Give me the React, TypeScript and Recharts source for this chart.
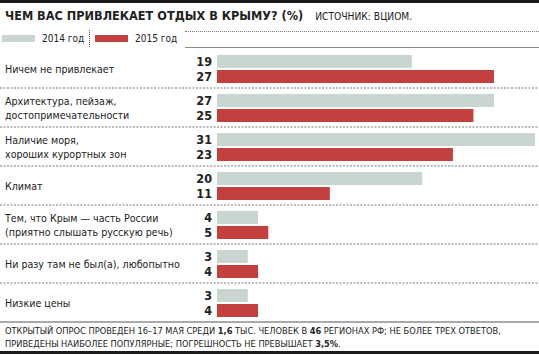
import { BarChart, Bar, XAxis, YAxis, LabelList } from "recharts";

const categories = [
  "Ничем не привлекает",
  "Архитектура, пейзаж,\nдостопримечательности",
  "Наличие моря,\nхороших курортных зон",
  "Климат",
  "Тем, что Крым — часть России\n(приятно слышать русскую речь)",
  "Ни разу там не был(а), любопытно",
  "Низкие цены",
];
const values2014 = [19, 27, 31, 20, 4, 3, 3];
const values2015 = [27, 25, 23, 11, 5, 4, 4];
const seriesNames = ["2014 год", "2015 год"];

const GRAY = "#c9d6d0";
const RED = "#c4403f";
const FONT = "'Liberation Sans Narrow', 'DejaVu Sans Condensed', Roboto, sans-serif";

const W = 539;
const H = 355;
const TOP = 49;
const BOTTOM = 33;
const BAND = (H - TOP - BOTTOM) / categories.length;

const data = categories.map((name, i) => ({
  name,
  y2014: values2014[i],
  y2015: values2015[i],
}));

function CategoryTick(props: any) {
  const { y, payload, index } = props;
  const lines = String(payload.value).split("\n");
  const last = index === categories.length - 1;
  const lineY = y + BAND / 2;
  return (
    <g>
      <text
        x={5}
        y={y}
        fill="#222"
        fontSize={10.6}
        fontFamily={FONT}
        dominantBaseline="central"
      >
        {lines.map((l, i) => (
          <tspan key={i} x={5} y={y + (i - (lines.length - 1) / 2) * 14}>
            {l}
          </tspan>
        ))}
      </text>
      <line
        x1={0}
        x2={W}
        y1={lineY}
        y2={lineY}
        stroke={last ? "#555" : "#777"}
        strokeWidth={1}
        strokeDasharray={last ? undefined : "2 1.5"}
      />
    </g>
  );
}

export default function App() {
  return (
    <div
      style={{
        position: "absolute",
        left: 0,
        top: 0,
        width: W,
        height: H,
        background: "#fff",
        fontFamily: FONT,
        color: "#222",
        overflow: "hidden",
      }}
    >
      <div style={{ position: "absolute", left: 0, top: 0, width: W, height: 3, background: "#1a1a1a" }} />
      <div style={{ position: "absolute", left: 5, top: 8, whiteSpace: "nowrap", fontSize: 12.6, lineHeight: "16px" }}>
        <span style={{ fontWeight: "bold" }}>ЧЕМ ВАС ПРИВЛЕКАЕТ ОТДЫХ В КРЫМУ? (%)</span>
        <span style={{ fontSize: 10.2, marginLeft: 12 }}>ИСТОЧНИК: ВЦИОМ.</span>
      </div>
      <div style={{ position: "absolute", left: 185, top: 31, width: W - 185, borderTop: "1px dotted #777" }} />
      <div style={{ position: "absolute", left: 185, top: 47, width: W - 185, borderTop: "1px solid #888" }} />
      <div style={{ position: "absolute", left: 2, top: 35, width: 33, height: 7, background: GRAY }} />
      <div style={{ position: "absolute", left: 42, top: 32, fontSize: 10, lineHeight: "13px", whiteSpace: "nowrap" }}>
        {seriesNames[0]}
      </div>
      <div style={{ position: "absolute", left: 89, top: 30, height: 17, borderLeft: "1px dotted #555" }} />
      <div style={{ position: "absolute", left: 95, top: 35, width: 33, height: 7, background: RED }} />
      <div style={{ position: "absolute", left: 135, top: 32, fontSize: 10, lineHeight: "13px", whiteSpace: "nowrap" }}>
        {seriesNames[1]}
      </div>

      <div style={{ position: "absolute", left: 0, top: 0 }}>
        <BarChart
          width={W}
          height={H}
          data={data}
          layout="vertical"
          margin={{ top: TOP, right: 4, bottom: BOTTOM, left: 0 }}
          barSize={13}
          barGap={2}
          barCategoryGap={11}
        >
          <XAxis type="number" domain={[0, 31]} hide />
          <YAxis
            type="category"
            dataKey="name"
            width={217}
            axisLine={false}
            tickLine={false}
            tick={<CategoryTick />}
            interval={0}
          />
          <Bar dataKey="y2014" name={seriesNames[0]} fill={GRAY} isAnimationActive={false}>
            <LabelList
              dataKey="y2014"
              position="left"
              offset={5}
              fill="#222"
              fontSize={12.5}
              fontWeight="bold"
              fontFamily={FONT}
            />
          </Bar>
          <Bar dataKey="y2015" name={seriesNames[1]} fill={RED} isAnimationActive={false}>
            <LabelList
              dataKey="y2015"
              position="left"
              offset={5}
              fill="#222"
              fontSize={12.5}
              fontWeight="bold"
              fontFamily={FONT}
            />
          </Bar>
        </BarChart>
      </div>

      <div
        style={{
          position: "absolute",
          left: 5,
          top: 324,
          fontSize: 9.2,
          lineHeight: "13px",
          whiteSpace: "nowrap",
        }}
      >
        ОТКРЫТЫЙ ОПРОС ПРОВЕДЕН 16–17 МАЯ СРЕДИ <b>1,6</b> ТЫС. ЧЕЛОВЕК В <b>46</b> РЕГИОНАХ РФ; НЕ БОЛЕЕ ТРЕХ ОТВЕТОВ,
        <br />
        ПРИВЕДЕНЫ НАИБОЛЕЕ ПОПУЛЯРНЫЕ; ПОГРЕШНОСТЬ НЕ ПРЕВЫШАЕТ <b>3,5%</b>.
      </div>
      <div style={{ position: "absolute", left: 0, top: 351, width: W, height: 3, background: "#1a1a1a" }} />
    </div>
  );
}
